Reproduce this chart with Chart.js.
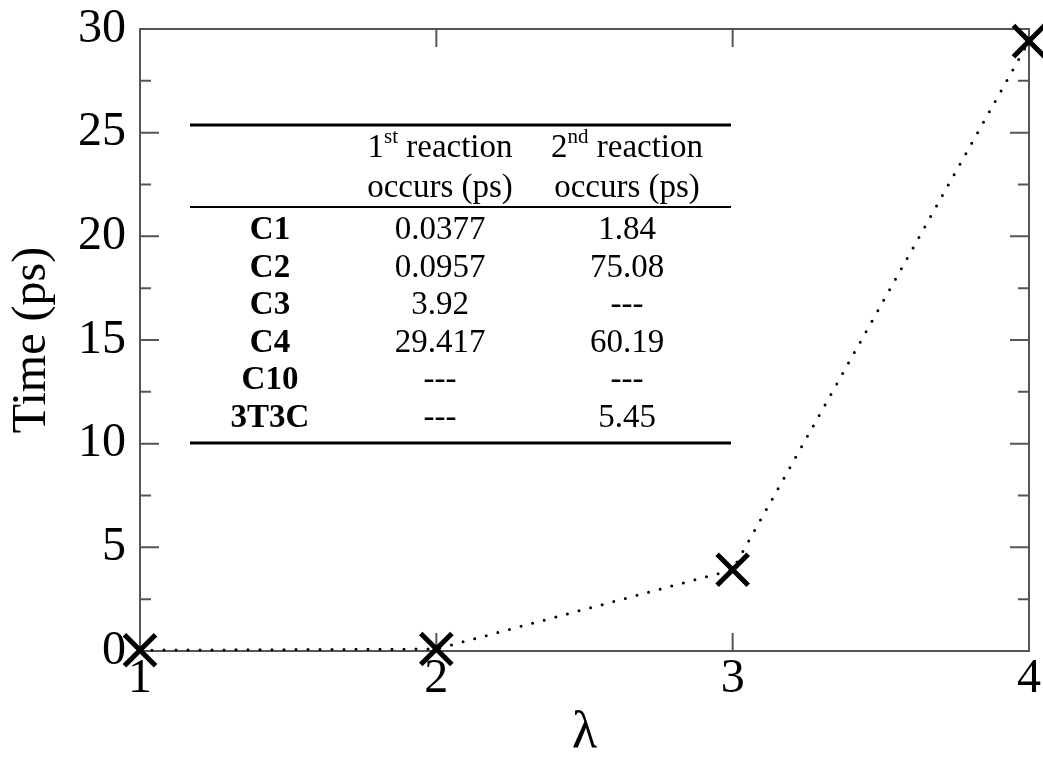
<!DOCTYPE html>
<html>
<head>
<meta charset="utf-8">
<title>Time vs lambda</title>
<script src="https://cdn.jsdelivr.net/npm/chart.js@4.4.1/dist/chart.umd.min.js"></script>
<style>
  html, body { margin: 0; padding: 0; background: #fff; }
  #wrap { width: 1043px; height: 761px; }
</style>
</head>
<body>
<div id="wrap"><canvas id="chart" width="1043" height="761"></canvas></div>
<script>
// data of the plot
const lambdaValues = [1, 2, 3, 4];
const timeValues = [0.0377, 0.0957, 3.92, 29.417];
const yTickValues = [0, 5, 10, 15, 20, 25, 30];
const xTickValues = [1, 2, 3, 4];

// inset table
const tableRows = ['C1', 'C2', 'C3', 'C4', 'C10', '3T3C'];
const firstReaction = ['0.0377', '0.0957', '3.92', '29.417', '---', '---'];
const secondReaction = ['1.84', '75.08', '---', '60.19', '---', '5.45'];
const headerFirst = [['1', false], ['st', true], [' reaction', false]];
const headerSecond = [['2', false], ['nd', true], [' reaction', false]];
const headerUnits = 'occurs (ps)';

const serif = '"Liberation Serif", "Times New Roman", serif';

// frame with inward ticks on all four sides
const frameTicks = {
    id: 'frameTicks',
    beforeDatasetsDraw(chart) {
        const { ctx, chartArea: a, scales: { x, y } } = chart;
        ctx.save();
        ctx.strokeStyle = '#555';
        ctx.lineWidth = 2;
        ctx.strokeRect(a.left, a.top, a.right - a.left, a.bottom - a.top);
        ctx.beginPath();
        y.ticks.forEach((t, i) => {
            const p = y.getPixelForValue(t.value);
            ctx.moveTo(a.left, p); ctx.lineTo(a.left + 19, p);
            ctx.moveTo(a.right, p); ctx.lineTo(a.right - 19, p);
            if (i < y.ticks.length - 1) {
                const m = y.getPixelForValue((t.value + y.ticks[i + 1].value) / 2);
                ctx.moveTo(a.left, m); ctx.lineTo(a.left + 11, m);
                ctx.moveTo(a.right, m); ctx.lineTo(a.right - 11, m);
            }
        });
        x.ticks.forEach(t => {
            const p = x.getPixelForValue(t.value);
            ctx.moveTo(p, a.bottom); ctx.lineTo(p, a.bottom - 18);
            ctx.moveTo(p, a.top); ctx.lineTo(p, a.top + 18);
        });
        ctx.stroke();
        ctx.restore();
    }
};

function drawRich(ctx, parts, cx, baseline) {
    const widths = parts.map(([txt, sup]) => {
        ctx.font = (sup ? '21px ' : '33px ') + serif;
        return ctx.measureText(txt).width;
    });
    let xPos = cx - widths.reduce((s, w) => s + w, 0) / 2;
    parts.forEach(([txt, sup], i) => {
        ctx.font = (sup ? '21px ' : '33px ') + serif;
        ctx.textAlign = 'left';
        ctx.fillText(txt, xPos, sup ? baseline - 14 : baseline);
        xPos += widths[i];
    });
}

// inset table drawn on top of the plot
const insetTable = {
    id: 'insetTable',
    afterDraw(chart) {
        const { ctx, chartArea: a } = chart;
        const left = a.left + 50, right = a.left + 591;
        const col0 = a.left + 130, col1 = a.left + 300, col2 = a.left + 487;
        ctx.save();
        ctx.fillStyle = '#000';
        ctx.strokeStyle = '#000';
        ctx.textBaseline = 'alphabetic';

        ctx.lineWidth = 3;
        ctx.beginPath();
        ctx.moveTo(left, a.top + 96); ctx.lineTo(right, a.top + 96);
        ctx.moveTo(left, a.top + 414); ctx.lineTo(right, a.top + 414);
        ctx.stroke();
        ctx.lineWidth = 2;
        ctx.beginPath();
        ctx.moveTo(left, a.top + 178); ctx.lineTo(right, a.top + 178);
        ctx.stroke();

        drawRich(ctx, headerFirst, col1, a.top + 128);
        drawRich(ctx, headerSecond, col2, a.top + 128);
        ctx.font = '33px ' + serif;
        ctx.textAlign = 'center';
        ctx.fillText(headerUnits, col1, a.top + 168);
        ctx.fillText(headerUnits, col2, a.top + 168);

        tableRows.forEach((name, i) => {
            const base = a.top + 210 + i * 37.6;
            ctx.font = 'bold 33px ' + serif;
            ctx.fillText(name, col0, base);
            ctx.font = '33px ' + serif;
            ctx.fillText(firstReaction[i], col1, base);
            ctx.fillText(secondReaction[i], col2, base);
        });
        ctx.restore();
    }
};

function noPadding(s) {
    s.paddingLeft = 0;
    s.paddingRight = 0;
    s.paddingTop = 0;
    s.paddingBottom = 0;
}

const ctx = document.getElementById('chart').getContext('2d');
new Chart(ctx, {
    type: 'line',
    data: {
        datasets: [{
            data: lambdaValues.map((l, i) => ({ x: l, y: timeValues[i] })),
            borderColor: '#000',
            borderWidth: 3,
            borderDash: [0, 12],
            borderCapStyle: 'round',
            pointStyle: 'crossRot',
            pointRadius: 22,
            pointHoverRadius: 22,
            pointBorderWidth: 5,
            pointBorderColor: '#000',
            pointBackgroundColor: '#000',
            tension: 0,
            fill: false,
            clip: false
        }]
    },
    options: {
        responsive: false,
        animation: false,
        events: [],
        layout: { autoPadding: false, padding: { top: 29, right: 14, left: 0, bottom: 0 } },
        plugins: { legend: { display: false }, tooltip: { enabled: false } },
        scales: {
            x: {
                type: 'linear',
                min: 1,
                max: 4,
                afterBuildTicks: s => { s.ticks = xTickValues.map(v => ({ value: v })); },
                afterFit: s => { s.height = 110; noPadding(s); },
                grid: { display: false, drawTicks: false },
                border: { display: false },
                ticks: { color: '#000', padding: 0, maxRotation: 0, font: { family: serif, size: 48 } },
                title: {
                    display: true,
                    text: 'λ',
                    color: '#000',
                    padding: { top: 0, bottom: 2 },
                    font: { family: serif, size: 52, lineHeight: 1 }
                }
            },
            y: {
                min: 0,
                max: 30,
                afterBuildTicks: s => { s.ticks = yTickValues.map(v => ({ value: v })); },
                afterFit: s => { s.width = 140; noPadding(s); },
                grid: { display: false, drawTicks: false },
                border: { display: false },
                ticks: { color: '#000', padding: 14, font: { family: serif, size: 48 } },
                title: {
                    display: true,
                    text: 'Time (ps)',
                    color: '#000',
                    padding: { top: 4, bottom: 0 },
                    font: { family: serif, size: 48, lineHeight: 1.2 }
                }
            }
        }
    },
    plugins: [frameTicks, insetTable]
});
</script>
</body>
</html>
